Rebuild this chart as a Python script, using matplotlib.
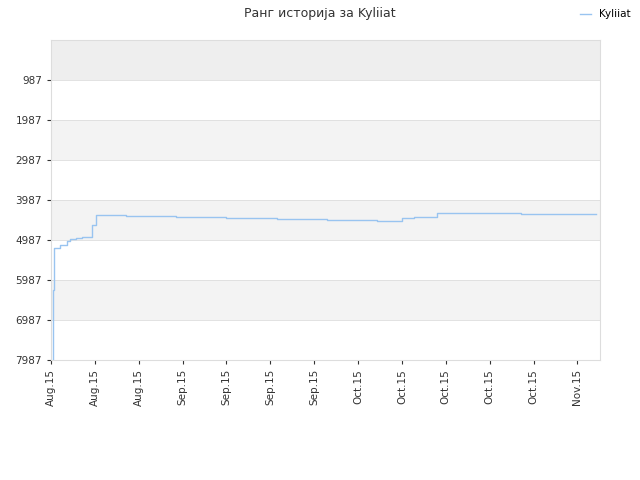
import matplotlib.pyplot as plt
import numpy as np

# x positions in days since Aug 14 2015, ranks
days = [0.3, 0.35, 0.4, 0.5, 1.5, 2.5, 3.0, 4.0, 5.0, 6.5, 7.2, 7.7, 12.0, 20.0, 28.0, 36.0, 44.0, 52.0, 56.0, 58.0, 61.6, 63.5, 75.0, 87.0]
ranks = [7987, 6237, 5237, 5190, 5112, 5000, 4962, 4940, 4912, 4612, 4362, 4362, 4387, 4412, 4437, 4462, 4487, 4512, 4437, 4412, 4312, 4312, 4337, 4337]
tick_labels = ['Aug.15'] * 3 + ['Sep.15'] * 4 + ['Oct.15'] * 5 + ['Nov.15']
y_ticks = [987, 1987, 2987, 3987, 4987, 5987, 6987, 7987]

fig = plt.figure(figsize=(6.4, 4.8), dpi=100)
ax = fig.add_axes([51 / 640, 120 / 480, 549 / 640, 320 / 480])

bands = [-13] + y_ticks
for i in range(len(bands) - 1):
    if i == 0:
        c = '#eeeeee'
    elif i % 2 == 0:
        c = '#f3f3f3'
    else:
        c = 'white'
    ax.axhspan(bands[i], bands[i + 1], color=c, zorder=0, lw=0)

ax.step(days, ranks, where='post', color='#99c4f0', lw=1, label='Kyliiat', zorder=3)
ax.set_ylim(7987, -13)
ax.set_xlim(0, 87.6)
ax.set_yticks(y_ticks)
ax.set_yticklabels([str(v) for v in y_ticks])
ax.set_xticks(np.arange(13) * 7)
ax.set_xticklabels(tick_labels, rotation=90)
ax.tick_params(labelsize=7.5, colors='#333333', length=3)
for y in y_ticks:
    ax.axhline(y, color='#dddddd', lw=0.6, zorder=1)
for s in ax.spines.values():
    s.set_color('#dddddd')

fig.suptitle('Ранг историја за Kyliiat', fontsize=9, color='#333333', y=0.985)
fig.legend(loc='upper right', bbox_to_anchor=(1.0, 1.0), frameon=False, fontsize=7.5, handlelength=1)
fig.savefig('out.png')
